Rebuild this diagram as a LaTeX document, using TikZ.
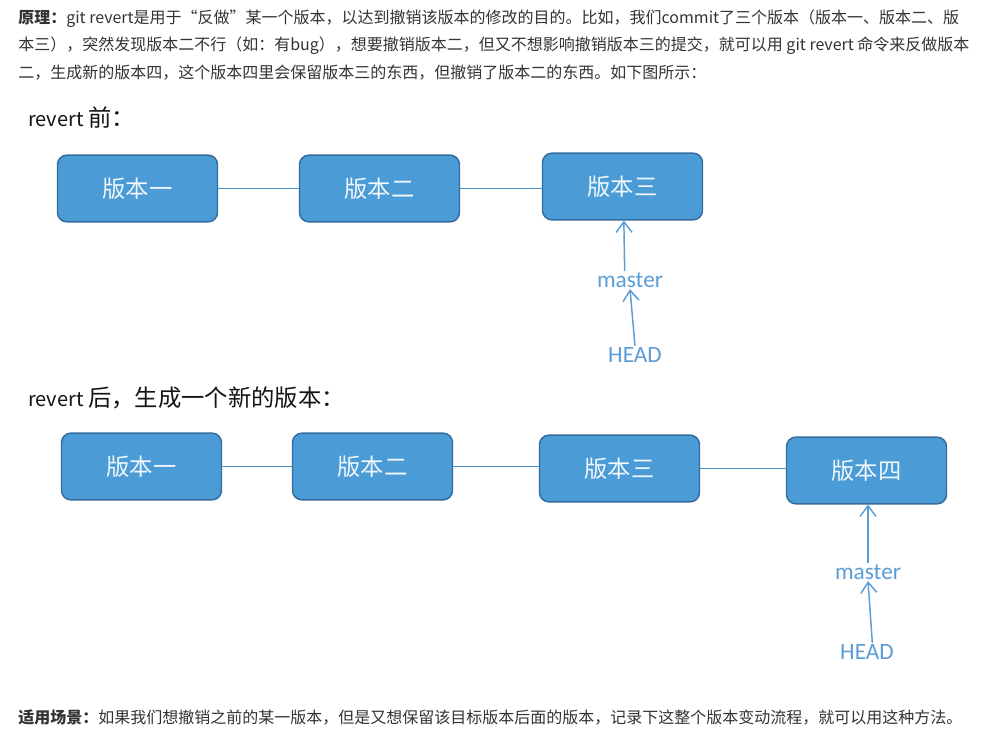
\documentclass[tikz,border=0pt]{standalone}
\usepackage{fontspec}
\setmainfont{Noto Sans CJK SC}
\newfontfamily\labfont{Carlito}
\usetikzlibrary{arrows.meta,positioning}
\definecolor{gvBlue}   {RGB}{ 74,155,214}
\definecolor{gvBlueD}  {RGB}{ 52,108,158}
\definecolor{gvLine}   {RGB}{ 80,150,205}
\definecolor{gvArrow}  {RGB}{ 91,157,214}
\definecolor{gvText}   {RGB}{ 51, 51, 51}
\definecolor{gvHead}   {RGB}{ 20, 20, 20}
\newcommand{\cjkbig}{\fontsize{17.5}{20}\selectfont}

\begin{document}
\begin{tikzpicture}[
  x=0.75pt,y=-0.75pt,
  >={Straight Barb[length=8pt,width=12pt,line width=1.1pt]},
  para/.style={anchor=west,inner sep=0pt,text=gvText,font=\fontsize{12}{14}\selectfont},
  title/.style={anchor=west,inner sep=0pt,text=gvHead,font=\fontsize{15}{18}\selectfont},
  ver/.style={draw=gvBlueD,fill=gvBlue,line width=1.1pt,rounded corners=7pt,
              minimum width=120pt,minimum height=50pt,inner sep=0pt,
              text=white!92!gvBlue,font=\fontsize{17.5}{20}\selectfont},
  ref/.style={inner sep=1pt,text=gvArrow,font=\labfont\fontsize{17.5}{20}\selectfont},
  link/.style={draw=gvLine,line width=1pt},
  ptr/.style={->,draw=gvArrow,line width=1.1pt}
]
\useasboundingbox[fill=white] (0,0) rectangle (992,746);

% explanation text
\node[para] (p1) at (18,19) {\textbf{原理：}git revert是用于“反做”某一个版本，以达到撤销该版本的修改的目的。比如，我们commit了三个版本（版本一、版本二、版};
\node[para] (p2) at (18,46) {本三），突然发现版本二不行（如：有bug），想要撤销版本二，但又不想影响撤销版本三的提交，就可以用 git revert 命令来反做版本};
\node[para] (p3) at (18,73) {二，生成新的版本四，这个版本四里会保留版本三的东西，但撤销了版本二的东西。如下图所示：};

% before revert
\node[title] (t1) at (28,118) {revert {\cjkbig 前：}};
\node[ver] (a1) at (137.5,188.5) {版本一};
\node[ver] (a2) at (379.5,188.5) {版本二};
\node[ver] (a3) at (622.5,186.5) {版本三};
\node[ref] (m1) at (630,280) {master};
\node[ref] (h1) at (635,355) {HEAD};

\draw[link] (a1) -- (a2);
\draw[link] (a2.east) -- (a2.east -| a3.west);
\draw[ptr] ([xshift=-4pt]m1.north) -- ([xshift=1pt]a3.south);
\draw[ptr] (h1.north) -- (m1.south);

% after revert
\node[title] (t2) at (28,398) {revert {\cjkbig 后，生成一个新的版本：}};
\node[ver] (b1) at (141.5,466.5) {版本一};
\node[ver] (b2) at (372.5,466.5) {版本二};
\node[ver] (b3) at (619.5,468.5) {版本三};
\node[ver] (b4) at (866.5,470.5) {版本四};
\node[ref] (m2) at (868,572) {master};
\node[ref] (h2) at (867,652) {HEAD};

\draw[link] (b1) -- (b2);
\draw[link] (b2.east) -- (b2.east -| b3.west);
\draw[link] (b3.east) -- (b3.east -| b4.west);
\draw[ptr] (m2.north) -- (m2.north |- b4.south);
\draw[ptr] ([xshift=4pt]h2.north) -- (m2.south);

% usage note
\node[para] (p4) at (18,717) {\textbf{适用场景：}如果我们想撤销之前的某一版本，但是又想保留该目标版本后面的版本，记录下这整个版本变动流程，就可以用这种方法。};
\end{tikzpicture}
\end{document}
